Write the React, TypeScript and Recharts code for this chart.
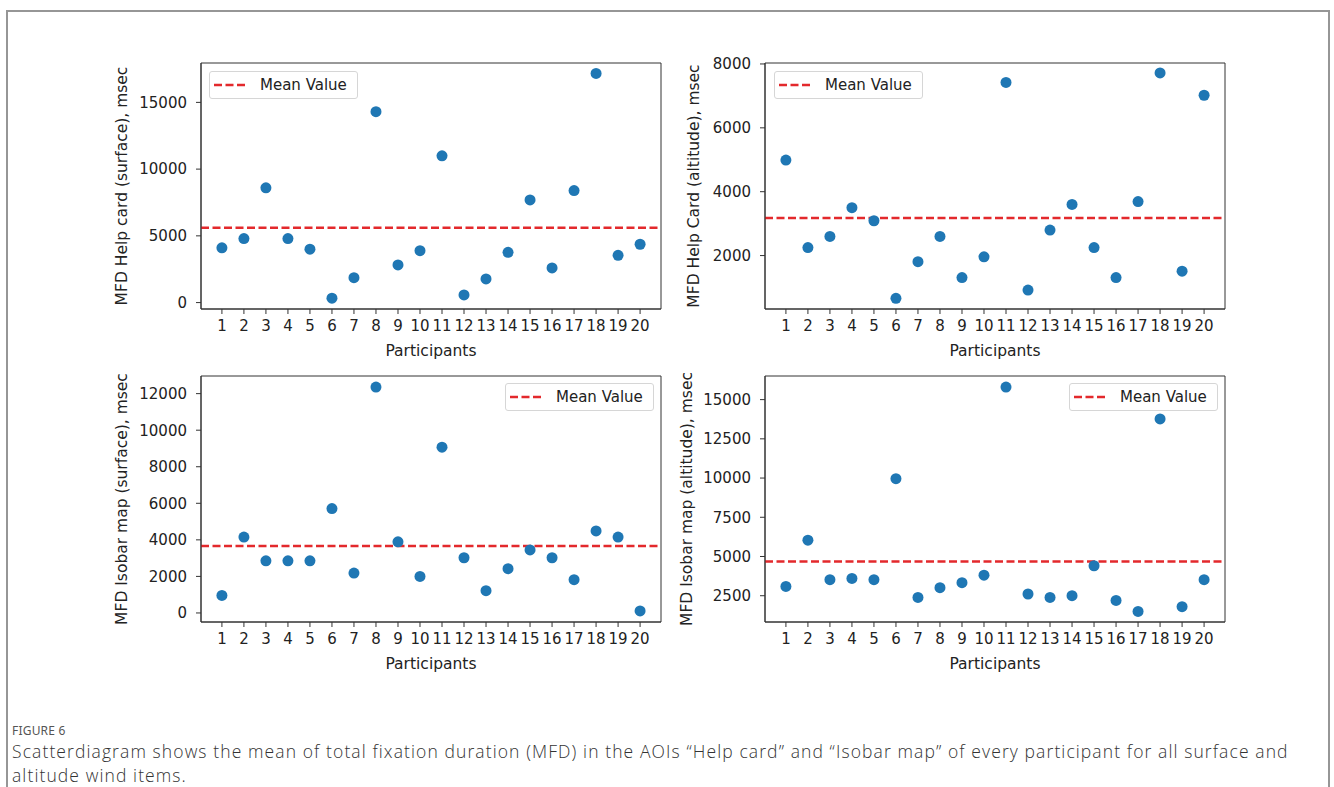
import {
  ScatterChart,
  Scatter,
  XAxis,
  YAxis,
  ReferenceLine,
  ReferenceArea,
  Legend,
} from "recharts";

const participants = [1, 2, 3, 4, 5, 6, 7, 8, 9, 10, 11, 12, 13, 14, 15, 16, 17, 18, 19, 20];

const helpCardSurface = [4100, 4800, 8600, 4800, 4000, 330, 1870, 14300, 2820, 3890, 11000, 570, 1770, 3770, 7690, 2600, 8390, 17170, 3540, 4370];
const helpCardAltitude = [4990, 2250, 2600, 3500, 3090, 660, 1810, 2600, 1310, 1960, 7420, 920, 2800, 3600, 2250, 1310, 3690, 7720, 1510, 7020];
const isobarSurface = [960, 4150, 2850, 2850, 2850, 5710, 2180, 12360, 3890, 2000, 9070, 3020, 1220, 2420, 3450, 3020, 1820, 4490, 4150, 110];
const isobarAltitude = [3090, 6040, 3520, 3600, 3520, 9960, 2390, 3010, 3330, 3810, 15800, 2610, 2390, 2500, 4410, 2200, 1500, 13770, 1800, 3520];

const meanHelpSurface = 5610;
const meanHelpAltitude = 3180;
const meanIsobarSurface = 3670;
const meanIsobarAltitude = 4680;

const xTicks = [1, 2, 3, 4, 5, 6, 7, 8, 9, 10, 11, 12, 13, 14, 15, 16, 17, 18, 19, 20];
const ticksHelpSurface = [0, 5000, 10000, 15000];
const ticksHelpAltitude = [2000, 4000, 6000, 8000];
const ticksIsobarSurface = [0, 2000, 4000, 6000, 8000, 10000, 12000];
const ticksIsobarAltitude = [2500, 5000, 7500, 10000, 12500, 15000];

const FONT = "DejaVu Sans";
const DOT = "#1f77b4";
const RED = "#e3292c";
const DASH = "8 3.5";
const X_DOMAIN: [number, number] = [0.05, 20.95];

const PLOT_W = 460;
const PLOT_H = 246;
const Y_AXIS_W = 100;
const X_AXIS_H = 60;
const M_TOP = 20;
const M_RIGHT = 10;

function MeanLegend() {
  return (
    <div
      style={{
        boxSizing: "border-box",
        width: 149,
        height: 28,
        border: "1px solid #d6d6d6",
        borderRadius: 3,
        background: "rgba(255,255,255,0.85)",
        display: "flex",
        alignItems: "center",
        fontFamily: FONT,
        fontSize: 15,
        color: "#222",
      }}
    >
      <svg width={50} height={6} style={{ flex: "none" }}>
        <line x1={4} y1={3} x2={38} y2={3} stroke={RED} strokeWidth={2.5} strokeDasharray={DASH} />
      </svg>
      <span>Mean Value</span>
    </div>
  );
}

function YLabel(props: any) {
  const { viewBox, text, gap } = props;
  if (!viewBox) return null;
  const cx = viewBox.x + viewBox.width - gap;
  const cy = viewBox.y + viewBox.height / 2;
  return (
    <text
      x={cx}
      y={cy}
      transform={`rotate(-90 ${cx} ${cy})`}
      textAnchor="middle"
      dominantBaseline="central"
      style={{ fontFamily: FONT, fontSize: 15.5 }}
      fill="#222"
    >
      {text}
    </text>
  );
}

function XLabel(props: any) {
  const { viewBox } = props;
  if (!viewBox) return null;
  const cx = viewBox.x + viewBox.width / 2;
  const cy = viewBox.y + 42;
  return (
    <text
      x={cx}
      y={cy}
      textAnchor="middle"
      dominantBaseline="central"
      style={{ fontFamily: FONT, fontSize: 15.5 }}
      fill="#222"
    >
      Participants
    </text>
  );
}

function Dot(props: any) {
  return <circle cx={props.cx} cy={props.cy} r={5.5} fill={DOT} />;
}

type PanelProps = {
  frameLeft: number;
  frameTop: number;
  values: number[];
  mean: number;
  domain: [number, number];
  yTicks: number[];
  yLabel: string;
  labelGap: number;
  legendRight?: boolean;
  legendDx: number;
  legendDy: number;
};

function Panel(p: PanelProps) {
  const data = participants.map((n, i) => ({ participant: n, value: p.values[i] }));
  const width = Y_AXIS_W + PLOT_W + M_RIGHT;
  const height = M_TOP + PLOT_H + X_AXIS_H;
  const legendLeft = p.legendRight ? Y_AXIS_W + PLOT_W - p.legendDx - 149 : Y_AXIS_W + p.legendDx;
  const tickStyle = { fontFamily: FONT, fontSize: 15, fill: "#222", style: { fontFamily: FONT, fontSize: 15 } };
  return (
    <div style={{ position: "absolute", left: p.frameLeft - Y_AXIS_W, top: p.frameTop - M_TOP }}>
      <ScatterChart width={width} height={height} margin={{ top: M_TOP, right: M_RIGHT, bottom: 0, left: 0 }}>
        <XAxis
          type="number"
          dataKey="participant"
          domain={X_DOMAIN}
          allowDataOverflow
          ticks={xTicks}
          interval={0}
          height={X_AXIS_H}
          tickSize={5}
          tickMargin={6}
          tick={tickStyle}
          stroke="#333"
          label={<XLabel />}
        />
        <YAxis
          type="number"
          dataKey="value"
          domain={p.domain}
          allowDataOverflow
          ticks={p.yTicks}
          interval={0}
          width={Y_AXIS_W}
          tickSize={5}
          tickMargin={9}
          tick={tickStyle}
          stroke="#333"
          label={<YLabel text={p.yLabel} gap={p.labelGap} />}
        />
        <ReferenceArea
          x1={X_DOMAIN[0]}
          x2={X_DOMAIN[1]}
          y1={p.domain[0]}
          y2={p.domain[1]}
          fill="none"
          stroke="#333"
          strokeWidth={1}
          ifOverflow="visible"
        />
        <Scatter data={data} fill={DOT} shape={Dot} isAnimationActive={false} legendType="none" />
        <ReferenceLine y={p.mean} stroke={RED} strokeWidth={2.5} strokeDasharray={DASH} ifOverflow="visible" />
        <Legend
          verticalAlign="middle"
          layout="horizontal"
          wrapperStyle={{ left: legendLeft, top: M_TOP + p.legendDy, width: 149, height: 28 }}
          content={() => <MeanLegend />}
        />
      </ScatterChart>
    </div>
  );
}

const captionLine = {
  position: "absolute" as const,
  left: 12,
  fontFamily: "'Open Sans', sans-serif",
  fontWeight: 300,
  fontSize: 17.5,
  letterSpacing: 1.1,
  lineHeight: "23.5px",
  height: 23.5,
  color: "#333",
  whiteSpace: "nowrap" as const,
};

export default function App() {
  return (
    <div style={{ position: "absolute", left: 0, top: 0, width: 1334, height: 787, background: "#fff", overflow: "hidden" }}>
      <div
        style={{
          position: "absolute",
          left: 6,
          top: 10,
          width: 1320,
          height: 800,
          borderLeft: "2px solid #969696",
          borderTop: "2px solid #969696",
          borderRight: "2px solid #969696",
        }}
      />
      <Panel
        frameLeft={201}
        frameTop={63}
        values={helpCardSurface}
        mean={meanHelpSurface}
        domain={[-480, 17950]}
        yTicks={ticksHelpSurface}
        yLabel="MFD Help card (surface), msec"
        labelGap={79}
        legendDx={8}
        legendDy={8}
      />
      <Panel
        frameLeft={765}
        frameTop={63}
        values={helpCardAltitude}
        mean={meanHelpAltitude}
        domain={[327, 8030]}
        yTicks={ticksHelpAltitude}
        yLabel="MFD Help Card (altitude), msec"
        labelGap={71}
        legendDx={9}
        legendDy={8}
      />
      <Panel
        frameLeft={201}
        frameTop={376}
        values={isobarSurface}
        mean={meanIsobarSurface}
        domain={[-495, 12965]}
        yTicks={ticksIsobarSurface}
        yLabel="MFD Isobar map (surface), msec"
        labelGap={79}
        legendRight
        legendDx={7}
        legendDy={7}
      />
      <Panel
        frameLeft={765}
        frameTop={376}
        values={isobarAltitude}
        mean={meanIsobarAltitude}
        domain={[825, 16505]}
        yTicks={ticksIsobarAltitude}
        yLabel="MFD Isobar map (altitude), msec"
        labelGap={78}
        legendRight
        legendDx={7}
        legendDy={7}
      />
      <div
        style={{
          position: "absolute",
          left: 12,
          top: 723,
          fontFamily: "'Noto Sans', sans-serif",
          fontSize: 12,
          lineHeight: "16px",
          color: "#555",
          letterSpacing: 0.2,
        }}
      >
        FIGURE 6
      </div>
      <div style={{ ...captionLine, top: 740 }}>
        Scatterdiagram shows the mean of total fixation duration (MFD) in the AOIs “Help card” and “Isobar map” of every participant for all surface and
      </div>
      <div style={{ ...captionLine, top: 763.5 }}>altitude wind items.</div>
    </div>
  );
}
